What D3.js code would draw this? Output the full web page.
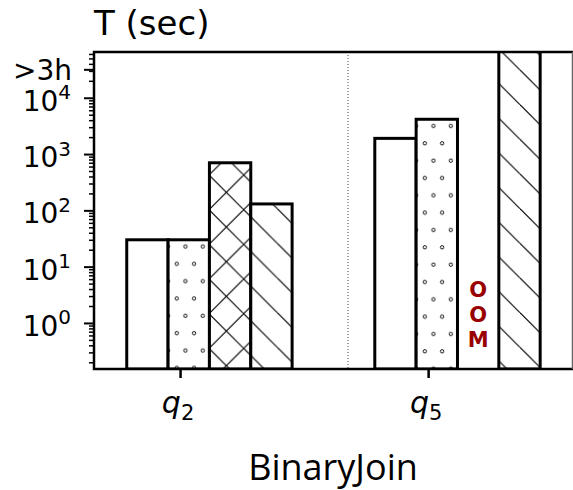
<!DOCTYPE html>
<html>
<head>
<meta charset="utf-8">
<script src="https://cdn.jsdelivr.net/npm/d3@7"></script>
<style>
  body { margin: 0; background: #fff; }
  svg { display: block; }
  text { font-family: "DejaVu Sans", sans-serif; }
</style>
</head>
<body>
<svg width="573" height="490"></svg>
<script>
// datos
const categorias = ["2", "5"];          // subindices de q
const valoresPlano = [30, 1900];
const valoresPuntos = [30, 4150];
const valoresCruz = [700, null];        // null = OOM
const valoresBarra = [130, 1e7];        // 1e7 = timeout (>3h), se corta arriba
const ticksMayores = [0, 1, 2, 3, 4];   // exponentes 10^n
const tickTimeout = 32000;
const etiquetaTimeout = ">3h";

const svg = d3.select("svg");

// escalas
const y = d3.scaleLog().domain([0.152, 65000]).range([369, 52]);
const x = d3.scaleLinear().domain([-0.347, 1.58]).range([94, 572]);
const anchoBarra = 1 / 6;
const inicioGrupo = -0.215;

const defs = svg.append("defs");
defs.append("clipPath").attr("id", "area")
  .append("rect").attr("x", 94).attr("y", 52).attr("width", 478).attr("height", 317);

const P = 34.67;
// patron "\\"
const pBarra = defs.append("pattern").attr("id", "barra")
  .attr("patternUnits", "userSpaceOnUse").attr("width", P).attr("height", P);
[-1, 0, 1].forEach(k => {
  pBarra.append("line")
    .attr("x1", 0).attr("y1", 0.7 + k * P).attr("x2", P).attr("y2", P + 0.7 + k * P)
    .attr("stroke", "#000").attr("stroke-width", 1.1);
});
// patron "x"
const pCruz = defs.append("pattern").attr("id", "cruz")
  .attr("patternUnits", "userSpaceOnUse").attr("width", P).attr("height", P);
[-1, 0, 1].forEach(k => {
  pCruz.append("line")
    .attr("x1", 0).attr("y1", 0.7 + k * P).attr("x2", P).attr("y2", P + 0.7 + k * P)
    .attr("stroke", "#000").attr("stroke-width", 1.1);
});
[0, 1, 2].forEach(k => {
  pCruz.append("line")
    .attr("x1", 0).attr("y1", 2.7 + k * P).attr("x2", P).attr("y2", 2.7 + (k - 1) * P)
    .attr("stroke", "#000").attr("stroke-width", 1.1);
});

// patron de puntos, uno por barra (fase relativa a la esquina de la barra)
function patronPuntos(id, x0, y0) {
  const p = defs.append("pattern").attr("id", id)
    .attr("patternUnits", "userSpaceOnUse").attr("width", P / 2).attr("height", P)
    .attr("patternTransform", `translate(${x0},${y0})`);
  [[0, 6.7], [P / 2, 6.7], [P / 4, 6.7 + P / 2]].forEach(c => {
    p.append("circle").attr("cx", c[0]).attr("cy", c[1]).attr("r", 1.7)
      .attr("fill", "#fff").attr("stroke", "#000").attr("stroke-width", 0.9);
  });
}

const series = [
  { valores: valoresPlano, relleno: () => "#fff" },
  { valores: valoresPuntos, relleno: null },
  { valores: valoresCruz, relleno: () => "url(#cruz)" },
  { valores: valoresBarra, relleno: () => "url(#barra)" },
];

const zona = svg.append("g").attr("clip-path", "url(#area)");

// separador punteado
zona.append("line")
  .attr("x1", x(0.677)).attr("x2", x(0.677)).attr("y1", 52).attr("y2", 369)
  .attr("stroke", "#444").attr("stroke-width", 1).attr("stroke-dasharray", "1,2");

series.forEach((s, si) => {
  s.valores.forEach((v, ci) => {
    const x0 = x(ci + inicioGrupo + si * anchoBarra);
    const x1 = x(ci + inicioGrupo + (si + 1) * anchoBarra);
    if (v == null) {
      // OOM
      const t = zona.append("text")
        .attr("x", (x0 + x1) / 2).attr("text-anchor", "middle")
        .attr("fill", "#990000").attr("font-weight", "bold").attr("font-size", 21);
      ["O", "O", "M"].forEach((l, i) => {
        t.append("tspan").attr("x", (x0 + x1) / 2).attr("y", 297 + i * 25).text(l);
      });
      return;
    }
    const yt = Math.max(y(v), 40);
    let relleno;
    if (s.relleno) relleno = s.relleno();
    else {
      const id = "puntos" + ci;
      patronPuntos(id, x0, yt);
      relleno = `url(#${id})`;
    }
    zona.append("rect")
      .attr("x", x0).attr("y", yt).attr("width", x1 - x0).attr("height", 369 - yt)
      .attr("fill", "#fff");
    zona.append("rect")
      .attr("x", x0).attr("y", yt).attr("width", x1 - x0).attr("height", 369 - yt)
      .attr("fill", relleno).attr("stroke", "#000").attr("stroke-width", 3);
  });
});

// ejes
const menores = [];
for (let e = -1; e <= 4; e++) {
  for (let m = 2; m <= 9; m++) {
    const v = m * Math.pow(10, e);
    if (v >= 0.152 && v <= 65000) menores.push(v);
  }
}
svg.append("g").attr("transform", "translate(94,0)")
  .call(d3.axisLeft(y).tickValues(menores).tickFormat("").tickSize(5).tickSizeOuter(0))
  .call(g => g.select(".domain").remove())
  .call(g => g.selectAll("line").attr("stroke-width", 1.5));
svg.append("g").attr("transform", "translate(94,0)")
  .call(d3.axisLeft(y).tickValues(ticksMayores.map(e => Math.pow(10, e)).concat([tickTimeout]))
    .tickFormat("").tickSize(10).tickSizeOuter(0))
  .call(g => g.select(".domain").remove())
  .call(g => g.selectAll("line").attr("stroke-width", 2));

// etiquetas y
ticksMayores.forEach(e => {
  const t = svg.append("text").attr("text-anchor", "end")
    .attr("x", 71).attr("y", y(Math.pow(10, e)) + 13).attr("font-size", 28);
  t.append("tspan").text("10");
  t.append("tspan").attr("font-size", 20).attr("dy", -11.5).text(e);
});
svg.append("text").attr("text-anchor", "end")
  .attr("x", 72).attr("y", y(tickTimeout) + 11).attr("font-size", 28).text(etiquetaTimeout);

// eje x
svg.append("g").attr("transform", "translate(0,369)")
  .call(d3.axisBottom(x).tickValues(categorias.map((c, i) => i)).tickFormat("").tickSize(9).tickSizeOuter(0))
  .call(g => g.select(".domain").remove())
  .call(g => g.selectAll("line").attr("stroke-width", 2.5));
categorias.forEach((c, i) => {
  const t = svg.append("text").attr("x", x(i) - 2).attr("y", 413)
    .attr("text-anchor", "middle").attr("font-size", 30);
  t.append("tspan").attr("font-style", "italic").text("q");
  t.append("tspan").attr("font-size", 21).attr("dy", 7).text(c);
});

// marco
svg.append("path")
  .attr("d", "M573,52 H94 V369 H573")
  .attr("fill", "none").attr("stroke", "#000").attr("stroke-width", 2.5);
svg.append("line").attr("x1", 572.5).attr("x2", 572.5).attr("y1", 52).attr("y2", 369)
  .attr("stroke", "#666").attr("stroke-width", 1.5);

// titulos
svg.append("text").attr("x", 94).attr("y", 35).attr("font-size", 34).text("T (sec)");
svg.append("text").attr("x", 333).attr("y", 480).attr("text-anchor", "middle")
  .style("font-family", "'Open Sans', sans-serif").attr("font-size", 36).text("BinaryJoin");
</script>
</body>
</html>
